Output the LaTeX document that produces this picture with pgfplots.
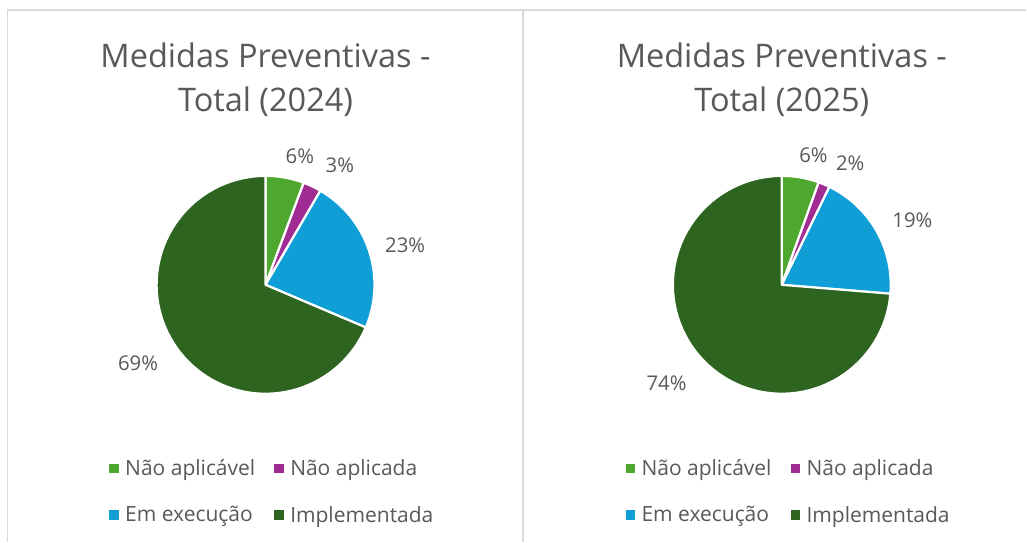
\documentclass[border=0pt]{standalone}
\usepackage{pgfplots}
\pgfplotsset{compat=1.18}
\usepackage{fontspec}
\setmainfont{Open Sans}
\definecolor{cNA}{HTML}{4EA72E}
\definecolor{cNAd}{HTML}{A02B93}
\definecolor{cEx}{HTML}{0F9ED5}
\definecolor{cIm}{HTML}{2C6420}
\definecolor{txt}{HTML}{595959}
\definecolor{bord}{HTML}{D9D9D9}

% Data (percent of total), clockwise from 12 o'clock
% 2024
\def\AvA{5.7}\def\AvB{2.7}\def\AvC{23.0}\def\AvD{68.6}
% 2025
\def\BvA{5.5}\def\BvB{1.7}\def\BvC{19.1}\def\BvD{73.7}

\newcommand{\angles}[4]{%
  \pgfmathsetmacro\aZ{90}%
  \pgfmathsetmacro\aA{90-3.6*#1}%
  \pgfmathsetmacro\aB{\aA-3.6*#2}%
  \pgfmathsetmacro\aC{\aB-3.6*#3}%
  \pgfmathsetmacro\aD{\aC-3.6*#4}%
}
\newcommand{\slice}[3]{% from to color
  \addplot[forget plot, fill=#3, draw=white, line width=2.2pt, line join=round,
    domain=#1:#2, samples=80] ({cos(x)},{sin(x)}) -- (axis cs:0,0) -- cycle;
}
\newcommand{\legsq}[1]{%
  \addlegendimage{legend image code/.code={\fill[#1] (0pt,-4.3pt) rectangle (8.6pt,4.3pt); \path (13.6pt,0pt);}}}

\pgfplotsset{
  pieax/.style={
    scale only axis, width=218pt, height=218pt,
    xmin=-1, xmax=1, ymin=-1, ymax=1, hide axis, clip=false,
    legend columns=2,
    legend cell align=left,
    legend style={draw=none, fill=none, text=txt,
      font=\fontsize{21}{24}\selectfont,
      at={(-0.232,-0.283)}, anchor=north west,
      /tikz/every even column/.append style={column sep=17pt},
      row sep=25pt},
  },
}
\tikzset{pielab/.style={font=\fontsize{20.3}{24}\selectfont, text=txt}}

\begin{document}
\begin{tikzpicture}[x=1pt,y=1pt]
\fill[white] (0,0) rectangle (1027,542);
\draw[bord, line width=1.3pt] (7.5,0) -- (7.5,532) -- (1027,532);
\draw[bord, line width=1.3pt] (523.3,0) -- (523.3,532);

\node[align=center, text=txt, font=\fontsize{32.5}{44}\selectfont] at (265.7,462) {Medidas Preventivas -\\Total (2024)};
\node[align=center, text=txt, font=\fontsize{32.5}{44}\selectfont] at (782.3,462) {Medidas Preventivas -\\Total (2025)};

\angles{\AvA}{\AvB}{\AvC}{\AvD}
\begin{axis}[pieax, at={(265.7pt,257pt)}, anchor=center]
\slice{\aA}{\aZ}{cNA}
\slice{\aB}{\aA}{cNAd}
\slice{\aC}{\aB}{cEx}
\slice{\aD}{\aC}{cIm}
\legsq{cNA}\addlegendentry{Não aplicável}
\legsq{cNAd}\addlegendentry{Não aplicada}
\legsq{cEx}\addlegendentry{Em execução}
\legsq{cIm}\addlegendentry{Implementada}
\node[pielab] at (axis cs:0.315,1.183) {6\%};
\node[pielab] at (axis cs:0.682,1.10) {3\%};
\node[pielab] at (axis cs:1.282,0.367) {23\%};
\node[pielab] at (axis cs:-1.17,-0.716) {69\%};
\end{axis}

\angles{\BvA}{\BvB}{\BvC}{\BvD}
\begin{axis}[pieax, at={(782.3pt,257pt)}, anchor=center]
\slice{\aA}{\aZ}{cNA}
\slice{\aB}{\aA}{cNAd}
\slice{\aC}{\aB}{cEx}
\slice{\aD}{\aC}{cIm}
\legsq{cNA}\addlegendentry{Não aplicável}
\legsq{cNAd}\addlegendentry{Não aplicada}
\legsq{cEx}\addlegendentry{Em execução}
\legsq{cIm}\addlegendentry{Implementada}
\node[pielab] at (axis cs:0.291,1.193) {6\%};
\node[pielab] at (axis cs:0.628,1.12) {2\%};
\node[pielab] at (axis cs:1.199,0.596) {19\%};
\node[pielab] at (axis cs:-1.058,-0.90) {74\%};
\end{axis}
\end{tikzpicture}
\end{document}
